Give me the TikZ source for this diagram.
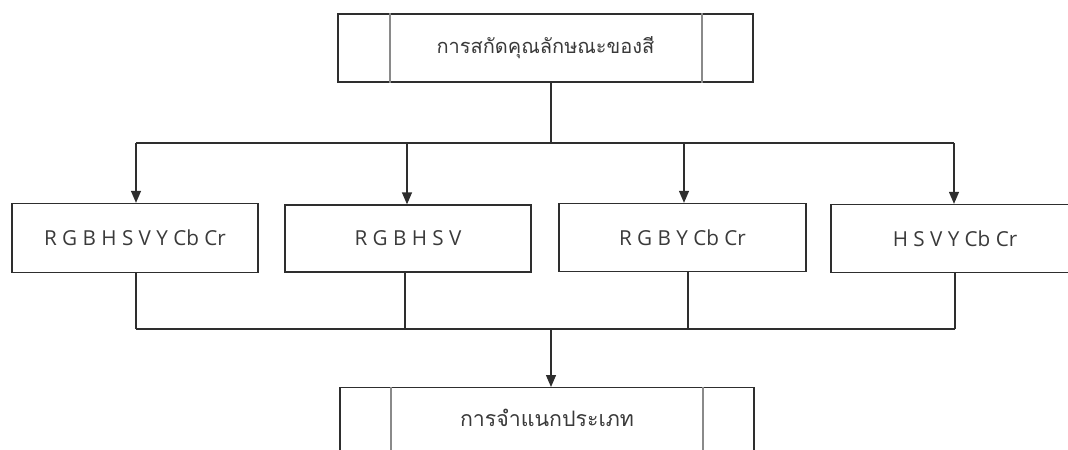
\documentclass[tikz,border=0pt]{standalone}
\usepackage{fontspec}
\setmainfont{Open Sans}
\newfontfamily\thaifont[Script=Thai]{Loma}
\usetikzlibrary{arrows.meta}
\definecolor{linec}{HTML}{2E2E2E}
\definecolor{innerc}{HTML}{8A8A8A}
\definecolor{textc}{HTML}{3A3A3A}
\tikzset{
  procbox/.style={draw=linec, line width=1pt, fill=white, inner sep=0pt, text=textc},
  databox/.style={draw=linec, line width=1pt, fill=white, inner sep=0pt, text=textc, font=\fontsize{15.5}{18}\selectfont},
  conn/.style={draw=linec, line width=1pt},
  arr/.style={conn, -{Triangle[length=9pt,width=7.5pt]}},
  innerline/.style={draw=innerc, line width=1.6pt}
}
\begin{document}
\begin{tikzpicture}[x=0.75pt,y=-0.75pt]
\useasboundingbox (0,0) rectangle (1068,450);
\clip (0,0) rectangle (1068,450);
% top box
\node[procbox, minimum width=415*0.75pt, minimum height=68*0.75pt, font=\thaifont\fontsize{15}{18}\selectfont] (top) at (545.5,48) {การสกัดคุณลักษณะของสี};
\draw[innerline] ([xshift=53*0.75pt]top.north west) -- ([xshift=53*0.75pt]top.south west);
\draw[innerline] ([xshift=-52*0.75pt]top.north east) -- ([xshift=-52*0.75pt]top.south east);
% four boxes
\node[databox, minimum width=246*0.75pt, minimum height=69*0.75pt] (b1) at (135,238) {R G B H S V Y Cb Cr};
\node[databox, minimum width=246*0.75pt, minimum height=67*0.75pt] (b2) at (408,238.5) {R G B H S V};
\node[databox, minimum width=247*0.75pt, minimum height=68*0.75pt] (b3) at (682.5,237.5) {R G B Y Cb Cr};
\node[databox, minimum width=248*0.75pt, minimum height=68*0.75pt] (b4) at (955,238.5) {H S V Y Cb Cr};
% bottom box
\node[procbox, minimum width=414*0.75pt, minimum height=90*0.75pt, anchor=north] (bot) at (547,387) {};
\node[text=textc, font=\thaifont\fontsize{16}{18}\selectfont] (bottxt) at (547,418) {การจำแนกประเภท};
\draw[innerline] ([xshift=52*0.75pt]bot.north west) -- ([xshift=52*0.75pt]bot.south west);
\draw[innerline] ([xshift=-52*0.75pt]bot.north east) -- ([xshift=-52*0.75pt]bot.south east);
% hubs
\coordinate (h1) at (551,143);
\coordinate (h2) at (551,329);
\coordinate (l1) at (136,143);
\coordinate (l2) at (407,143);
\coordinate (l3) at (684,143);
\coordinate (l4) at (954,143);
\coordinate (m1) at (136,329);
\coordinate (m2) at (405,329);
\coordinate (m3) at (688,329);
\coordinate (m4) at (955,329);
\draw[conn] (top.south -| h1) -- (h1);
\draw[conn] (l1) -- (l4);
\draw[arr] (l1) -- (l1 |- b1.north);
\draw[arr] (l2) -- (l2 |- b2.north);
\draw[arr] (l3) -- (l3 |- b3.north);
\draw[arr] (l4) -- (l4 |- b4.north);
\draw[conn] (m1 |- b1.south) -- (m1);
\draw[conn] (m2 |- b2.south) -- (m2);
\draw[conn] (m3 |- b3.south) -- (m3);
\draw[conn] (m4 |- b4.south) -- (m4);
\draw[conn] (m1) -- (m4);
\draw[arr] (h2) -- (h2 |- bot.north);
\end{tikzpicture}
\end{document}
